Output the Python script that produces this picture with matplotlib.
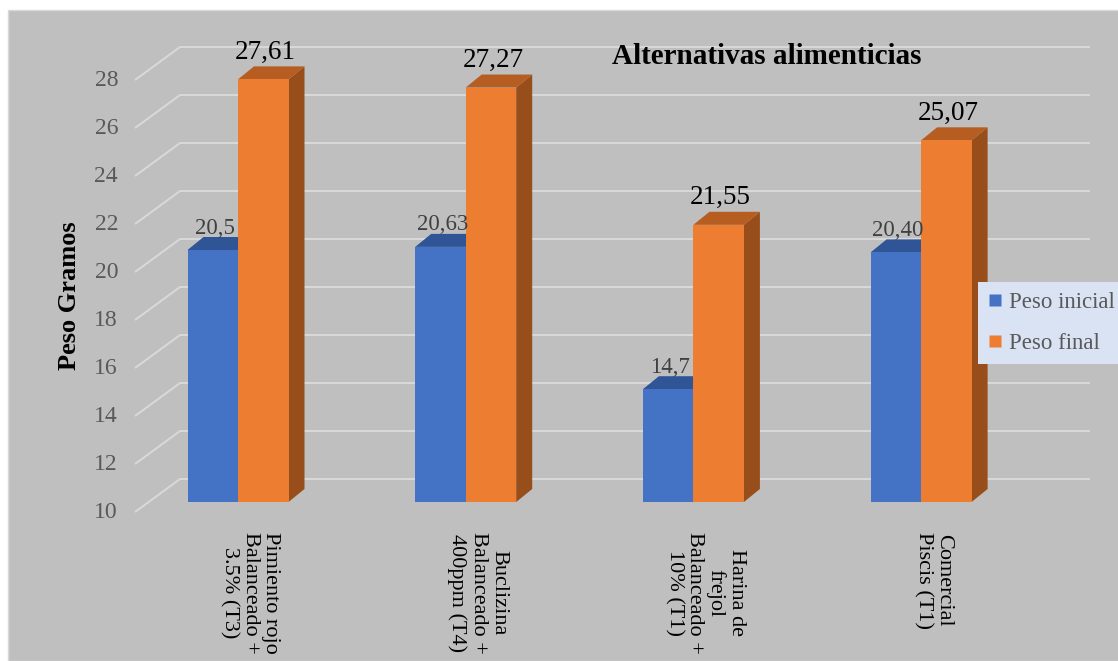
import numpy as np
import matplotlib.pyplot as plt
from matplotlib.patches import Polygon, Rectangle
from matplotlib.lines import Line2D

plt.rcParams['font.family'] = ['Liberation Serif', 'DejaVu Serif']

categorias = ['Pimiento rojo\nBalanceado +\n3.5% (T3)',
              'Buclizina\nBalanceado +\n400ppm (T4)',
              'Harina de\nfrejol\nBalanceado +\n10% (T1)',
              'Comercial\nPiscis (T1)']
peso_inicial = [20.5, 20.63, 14.7, 20.40]
peso_final = [27.61, 27.27, 21.55, 25.07]
txt_inicial = ['20,5', '20,63', '14,7', '20,40']
txt_final = ['27,61', '27,27', '21,55', '25,07']
ticks = np.arange(10, 29, 2)
series = ['Peso inicial', 'Peso final']

W, H = 1118, 661
GX, GY = 227.7, 24.0      # pixeles por categoria / por gramo
X0, Y0 = 238, 502         # centro del grupo 0 y base (10 g) en pixeles
base = 10

fig = plt.figure(figsize=(W / 100, H / 100), dpi=100, facecolor='white')
ax = fig.add_axes([0, 0, 1, 1])
ax.set_xlim(-X0 / GX, (W - X0) / GX)
ax.set_ylim(base - (H - Y0) / GY, base + Y0 / GY)
ax.axis('off')

# fondo gris del grafico
ax.add_patch(Rectangle((8 / W, 0), 1, 1 - 10 / H, transform=ax.transAxes,
                       facecolor='#BFBFBF', edgecolor='#D9D9D9', lw=1, zorder=0))

def px(dx, dy):
    return dx / GX, dy / GY

# planos frontal y de fondo respecto al plano de las barras
fx, fy = px(-13.5, -10)
bx, by = px(31.5, 23)
x_left = (135 - X0) / GX
x_right = (1090 - X0) / GX
for t in ticks:
    ax.plot([x_left, x_left + (bx - fx), x_right], [t + fy, t + by, t + by],
            color='#D9D9D9', lw=1.4, zorder=1, solid_capstyle='butt')
    ax.text(x_left - 17 / GX, t + fy, str(t), ha='right', va='center',
            fontsize=17, color='#595959')

ancho = 50.5 / GX
ddx, ddy = px(16, 13)
colores = [('#4472C4', '#2F5597', '#2B4F8C'), ('#ED7D31', '#B65D21', '#984E1B')]

def barra(xl, v, cols, z):
    front, top, side = cols
    xr = xl + ancho
    ax.add_patch(Polygon([(xr, base), (xr + ddx, base + ddy), (xr + ddx, v + ddy), (xr, v)],
                         closed=True, facecolor=side, edgecolor='none', zorder=z))
    ax.add_patch(Polygon([(xl, v), (xr, v), (xr + ddx, v + ddy), (xl + ddx, v + ddy)],
                         closed=True, facecolor=top, edgecolor='none', zorder=z))
    ax.bar(xl, v - base, bottom=base, width=ancho, align='edge', color=front,
           edgecolor='none', zorder=z)

for i in range(len(categorias)):
    barra(i - ancho, peso_inicial[i], colores[0], 2 + i * 2)
    barra(i, peso_final[i], colores[1], 3 + i * 2)
    ax.annotate(txt_inicial[i], (i - ancho / 2 + 2 / GX, peso_inicial[i]),
                xytext=(0, 22), textcoords='offset pixels', ha='center', va='center',
                fontsize=16.5, color='#404040', zorder=20)
    ax.annotate(txt_final[i], (i + ancho / 2 + 2 / GX, peso_final[i]),
                xytext=(0, 27), textcoords='offset pixels', ha='center', va='center',
                fontsize=19.5, color='black', zorder=20)
    ax.text(i + 12 / GX, base - 30 / GY, categorias[i], rotation=-90,
            ha='center', va='top', multialignment='center', linespacing=1.1,
            fontsize=16, color='black')

fig.text(767 / W, 1 - 56 / H, 'Alternativas alimenticias', ha='center', va='center',
         fontsize=21, fontweight='bold', color='black')
fig.text(70 / W, 1 - 296 / H, 'Peso Gramos', rotation=90, ha='center', va='center',
         fontsize=19, fontweight='bold', color='black')

handles = [Line2D([], [], marker='s', ls='none', markersize=8.5,
                  markerfacecolor=c[0], markeredgecolor='none') for c in colores]
leg = fig.legend(handles, series, loc='upper left', bbox_to_anchor=(978 / W, 1 - 282 / H),
                 borderaxespad=0, frameon=True, fancybox=False, facecolor='#DAE3F3',
                 edgecolor='none', framealpha=1, fontsize=16.5, handlelength=0.6,
                 handletextpad=0.3, labelspacing=0.85, borderpad=0.45)
for t in leg.get_texts():
    t.set_color('#595959')

fig.savefig('out.png', dpi=100)
